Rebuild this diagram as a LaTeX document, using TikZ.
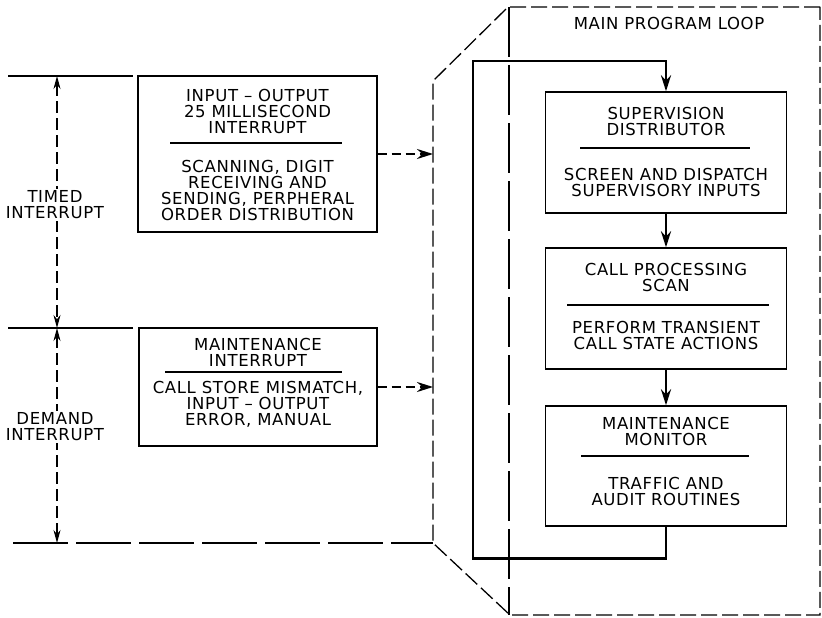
\documentclass[tikz,border=0pt]{standalone}
\usepackage{fontspec}
\newfontfamily\lettering[LetterSpace=4]{DejaVu Sans}
\usetikzlibrary{arrows.meta, positioning, calc}

\begin{document}
\begin{tikzpicture}[x=1pt, y=-1pt, >={Stealth[length=16pt, width=10pt]},
  label text/.style={font=\lettering\fontsize{16.5}{16}\selectfont, align=center, inner sep=0pt},
  block/.style={draw, line width=1.4pt, minimum width=241pt, inner sep=0pt},
  rulebar/.style={line width=1.2pt},
  flow/.style={->, line width=2.6pt},
  feed/.style={->, line width=2.2pt, dash pattern=on 9pt off 5pt},
  dimline/.style={{Stealth[length=13pt, width=7pt]}-{Stealth[length=13pt, width=7pt]},
    line width=1.2pt, dash pattern=on 12pt off 5pt},
  levelline/.style={line width=1.2pt},
  loopframe/.style={draw=black, line width=1.3pt, dash pattern=on 16pt off 5pt},
  centreline/.style={draw=black, line width=1.3pt, dash pattern=on 50pt off 8pt}]
  \useasboundingbox (0,0) rectangle (822,618);

  % Interrupt levels
  \draw[levelline] (8,76) -- (133,76);
  \draw[levelline] (8,328) -- (133,328);
  \draw[levelline, dash pattern=on 55pt off 8pt] (13,543) -- (433,543);
  \coordinate (ttop) at (57,76);
  \coordinate (tmid) at (57,328);
  \coordinate (tbot) at (57,543);
  \draw[dimline] (ttop) -- (tmid);
  \draw[dimline] (tmid) -- (tbot);
  \node[label text, fill=white, inner sep=2pt] (timed) at (55,205)
    {TIMED\\INTERRUPT};
  \node[label text, fill=white, inner sep=2pt] (demand) at (55,427)
    {DEMAND\\INTERRUPT};

  % Interrupt programs
  \node[block, minimum width=239pt, minimum height=156pt] (io) at (257.5,154) {};
  \node[label text] (io-title) at (257.5,111)
    {INPUT – OUTPUT\\25 MILLISECOND\\INTERRUPT};
  \draw[rulebar] (170,143) -- (342,143);
  \node[label text] (io-body) at (257.5,190)
    {SCANNING, DIGIT\\RECEIVING AND\\SENDING, PERPHERAL\\ORDER DISTRIBUTION};

  \node[block, minimum width=238pt, minimum height=118pt] (mi) at (258,387) {};
  \node[label text] (mi-title) at (258,352.5) {MAINTENANCE\\INTERRUPT};
  \draw[rulebar] (165,372) -- (342,372);
  \node[label text] (mi-body) at (258,404)
    {CALL STORE MISMATCH,\\INPUT – OUTPUT\\ERROR, MANUAL};

  % Main program loop
  \draw[loopframe] (820,7) -- (508,7) -- (433,81) -- (433,543) -- (510,615)
    -- (820,615) -- cycle;
  \draw[centreline] (509,7) -- (509,615);
  \node[label text] (loop-title) at (669,23) {MAIN PROGRAM LOOP};

  \node[block, minimum height=121pt] (superv) at (666,152.5) {};
  \node[label text] (superv-title) at (666,121.5) {SUPERVISION\\DISTRIBUTOR};
  \draw[rulebar] (580,148) -- (750,148);
  \node[label text] (superv-body) at (666,182)
    {SCREEN AND DISPATCH\\SUPERVISORY INPUTS};

  \node[block, minimum height=121pt] (callproc) at (666,308.5) {};
  \node[label text] (callproc-title) at (666,277.5) {CALL PROCESSING\\SCAN};
  \draw[rulebar] (567,305) -- (769,305);
  \node[label text] (callproc-body) at (666,335.5)
    {PERFORM TRANSIENT\\CALL STATE ACTIONS};

  \node[block, minimum height=120pt] (maintmon) at (666,466) {};
  \node[label text] (maintmon-title) at (666,431) {MAINTENANCE\\MONITOR};
  \draw[rulebar] (581,456) -- (749,456);
  \node[label text] (maintmon-body) at (666,491)
    {TRAFFIC AND\\AUDIT ROUTINES};

  % Flow
  \draw[flow] (superv) -- (callproc);
  \draw[flow] (callproc) -- (maintmon);
  \coordinate (ret-high) at (473,61);
  \draw[flow] (maintmon.south) -- ++(0,32) -| (ret-high) -| (superv.north);

  % Entry from interrupts
  \coordinate (in-io) at (433,154);
  \coordinate (in-mi) at (433,387);
  \draw[feed] (io.east) -- (in-io);
  \draw[feed] (mi.east) -- (in-mi);
\end{tikzpicture}
\end{document}
